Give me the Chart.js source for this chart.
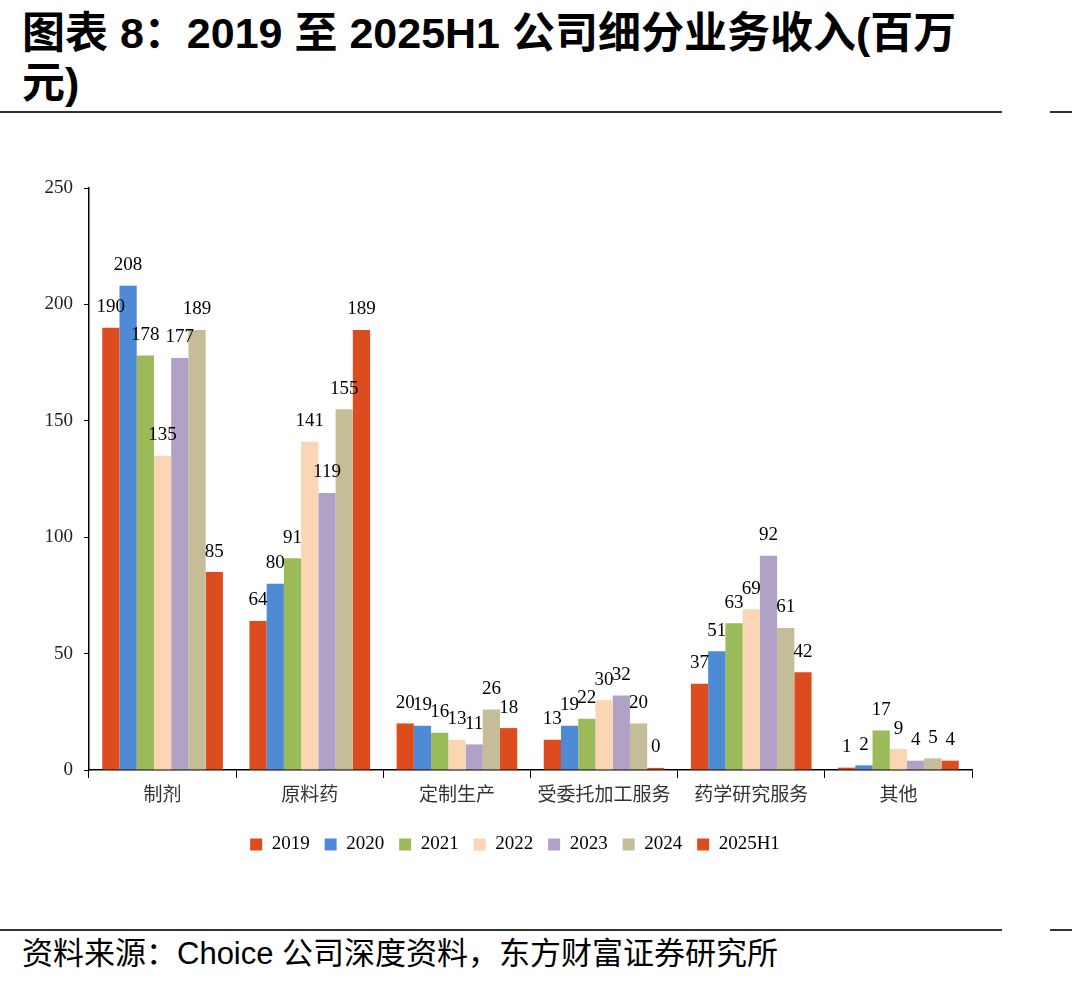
<!DOCTYPE html>
<html>
<head>
<meta charset="utf-8">
<script src="https://cdn.jsdelivr.net/npm/chart.js@4"></script>
<style>
body { margin:0; background:#fff; width:1072px; height:982px; position:relative; overflow:hidden; }
#title { position:absolute; left:22px; top:8px; font:bold 43px "Liberation Sans","Noto Sans CJK SC",sans-serif; line-height:50px; color:#000; }
.rule { position:absolute; height:2px; background:#333; }
#box { position:absolute; left:0; top:130px; width:1000px; height:790px; }
#src { position:absolute; left:22px; top:936px; font:31px "Liberation Sans","Noto Sans CJK SC",sans-serif; color:#000; line-height:36px; }
</style>
</head>
<body>
<div id="title">图表 8：2019 至 2025H1 公司细分业务收入(百万<br>元)</div>
<div class="rule" style="left:0;top:111px;width:1002px"></div>
<div class="rule" style="left:1050px;top:111px;width:22px"></div>
<div id="box"><canvas id="myChart"></canvas></div>
<div class="rule" style="left:0;top:929px;width:1002px"></div>
<div class="rule" style="left:1050px;top:929px;width:22px"></div>
<div id="src">资料来源：Choice 公司深度资料，东方财富证券研究所</div>
<script>
categories = ["制剂", "原料药", "定制生产", "受委托加工服务", "药学研究服务", "其他"];
seriesNames = ["2019", "2020", "2021", "2022", "2023", "2024", "2025H1"];
v2019 = [190, 64, 20, 13, 37, 1];
v2020 = [208, 80, 19, 19, 51, 2];
v2021 = [178, 91, 16, 22, 63, 17];
v2022 = [135, 141, 13, 30, 69, 9];
v2023 = [177, 119, 11, 32, 92, 4];
v2024 = [189, 155, 26, 20, 61, 5];
v2025H1 = [85, 189, 18, 0.9, 42, 4];
yTicks = [0, 50, 100, 150, 200, 250];

colors = ["#DD4C1F", "#4E8AD6", "#9BBB59", "#FCD5B5", "#B2A1C7", "#C4BD97", "#DD4C1F"];
values = [v2019, v2020, v2021, v2022, v2023, v2024, v2025H1];

datasets = seriesNames.map((name, i) => ({
    label: name,
    data: values[i],
    backgroundColor: colors[i],
    borderWidth: 0,
    categoryPercentage: 0.82,
    barPercentage: 1
}));

// value labels above each bar
labelPlugin = {
    id: "barLabels",
    afterLayout(chart) {
        // centre legend under the plot area, like the original
        chart.legend.left += 29;
        chart.legend.right += 29;
    },
    afterDatasetsDraw(chart) {
        ctx = chart.ctx;
        ctx.save();
        ctx.font = '19px "Liberation Serif", serif';
        ctx.fillStyle = "#000";
        ctx.textAlign = "center";
        ctx.textBaseline = "bottom";
        chart.data.datasets.forEach((ds, i) => {
            meta = chart.getDatasetMeta(i);
            meta.data.forEach((bar, j) => {
                ctx.fillText(Math.floor(ds.data[j]), bar.x, bar.y - 11);
            });
        });
        ctx.restore();
    }
};

new Chart(document.getElementById("myChart").getContext("2d"), {
    type: "bar",
    data: { labels: categories, datasets: datasets },
    plugins: [labelPlugin],
    options: {
        responsive: true,
        maintainAspectRatio: false,
        animation: false,
        layout: { padding: { top: 58, right: 28, left: 0, bottom: 56 } },
        scales: {
            x: {
                grid: { drawOnChartArea: false, tickLength: 8, color: "#000", offset: true },
                border: { color: "#000", width: 1.5 },
                ticks: { color: "#333", font: { family: '"Noto Sans CJK SC", sans-serif', size: 19 }, padding: 4 },
                afterFit: s => { s.height = 50; }
            },
            y: {
                min: 0,
                max: 250,
                afterBuildTicks: s => { s.ticks = yTicks.map(v => ({ value: v })); },
                grid: { drawOnChartArea: false, tickLength: 5, color: "#000" },
                border: { color: "#000", width: 1.5 },
                ticks: { color: "#222", font: { family: '"Liberation Serif", serif', size: 19 }, padding: 11 },
                afterFit: s => { s.width = 89; }
            }
        },
        plugins: {
            legend: {
                display: true,
                position: "bottom",
                labels: {
                    boxWidth: 12,
                    boxHeight: 12,
                    padding: 15,
                    color: "#000",
                    font: { family: '"Liberation Serif", serif', size: 19 }
                }
            },
            tooltip: { enabled: false }
        }
    }
});
</script>
</body>
</html>
